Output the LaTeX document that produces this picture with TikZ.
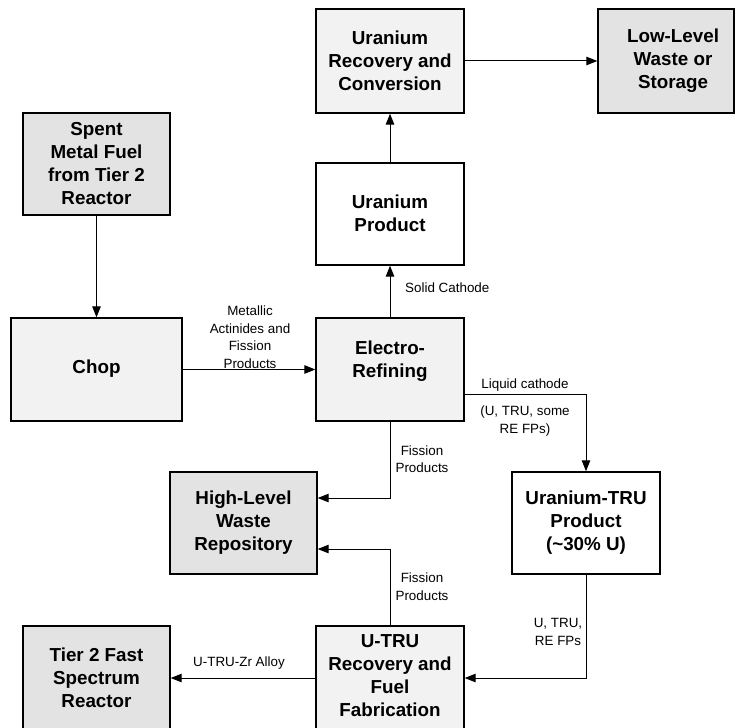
\documentclass[tikz,border=0pt]{standalone}
\usepackage{fontspec}
\setmainfont{Liberation Sans}
\usetikzlibrary{arrows.meta}
\definecolor{lightfill}{HTML}{F2F2F2}
\definecolor{darkfill}{HTML}{E3E3E3}
\begin{document}
\begin{tikzpicture}[x=1pt,y=-1pt,
  box/.style={draw=black, line width=1.4pt, minimum width=148pt, minimum height=104pt, inner sep=0pt},
  btext/.style={font=\fontsize{18.8}{23}\selectfont\bfseries, align=center, inner sep=0pt},
  lbl/.style={font=\fontsize{13.4}{17.5}\selectfont, align=center, inner sep=0pt},
  arr/.style={line width=1pt, -{Triangle[length=11pt,width=8.5pt]}}]
\useasboundingbox (0,0) rectangle (735,727);
% boxes
\node[box, fill=lightfill] (urc) at (390,61) {};
\node[box, fill=darkfill, minimum width=136pt] (llw) at (666,61) {};
\node[box, fill=darkfill, minimum width=147pt, minimum height=102pt] (spent) at (96.5,164) {};
\node[box, fill=white, minimum height=102pt] (up) at (390,214) {};
\node[box, fill=lightfill, minimum width=171pt, minimum height=103pt] (chop) at (96.5,369.5) {};
\node[box, fill=lightfill, minimum height=103pt] (er) at (390,369.5) {};
\node[box, fill=darkfill, minimum width=147pt, minimum height=102pt] (hlw) at (243.5,523) {};
\node[box, fill=white, minimum height=102pt] (utp) at (586,523) {};
\node[box, fill=darkfill, minimum width=147pt] (t2) at (96.5,678) {};
\node[box, fill=lightfill] (utru) at (390,678) {};
% box texts
\node[btext] (urcT) at (390,61) {Uranium\\Recovery and\\Conversion};
\node[btext] (llwT) at (673,61) {Low-Level\\Waste or\\Storage};
\node[btext] (spentT) at (96.5,164) {Spent\\Metal Fuel\\from Tier 2\\Reactor};
\node[btext] (upT) at (390,213) {Uranium\\Product};
\node[btext] (chopT) at (96.5,369) {Chop};
\node[btext] (erT) at (390,361) {Electro-\\Refining};
\node[btext] (hlwT) at (243.5,523) {High-Level\\Waste\\Repository};
\node[btext] (utpT) at (586,523) {Uranium-TRU\\Product\\(\textasciitilde30\% U)};
\node[btext] (t2T) at (96.5,678) {Tier 2 Fast\\Spectrum\\Reactor};
\node[btext] (utruT) at (390,676) {U-TRU\\Recovery and\\Fuel\\Fabrication};
% connectors
\draw[arr] (urc.east) -- (llw.west);
\draw[arr] (up.north) -- (urc.south);
\draw[arr] (spent.south) -- (chop.north);
\draw[arr] (er.north) -- (up.south);
\draw[arr] (chop.east) -- (er.west);
\draw[arr] ([yshift=-25pt]er.east) -| (utp.north);
\draw[arr] (er.south) |- ([yshift=25pt]hlw.east);
\draw[arr] (utru.north) |- ([yshift=-26pt]hlw.east);
\draw[arr] (utru.west) -- (t2.east);
\draw[arr] (utp.south) |- (utru.east);
% labels
\node[lbl] (l1) at (250,337) {Metallic\\Actinides and\\Fission\\Products};
\node[lbl, anchor=west] (l2) at (405,288) {Solid Cathode};
\node[lbl] (l3) at (525,385) {Liquid cathode};
\node[lbl] (l4) at (525,421) {(U, TRU, some\\RE FPs)};
\node[lbl] (l5) at (422,459) {Fission\\Products};
\node[lbl] (l6) at (422,586.5) {Fission\\Products};
\node[lbl] (l7) at (239,663) {U-TRU-Zr Alloy};
\node[lbl] (l8) at (558,632) {U, TRU,\\RE FPs};
\end{tikzpicture}
\end{document}
